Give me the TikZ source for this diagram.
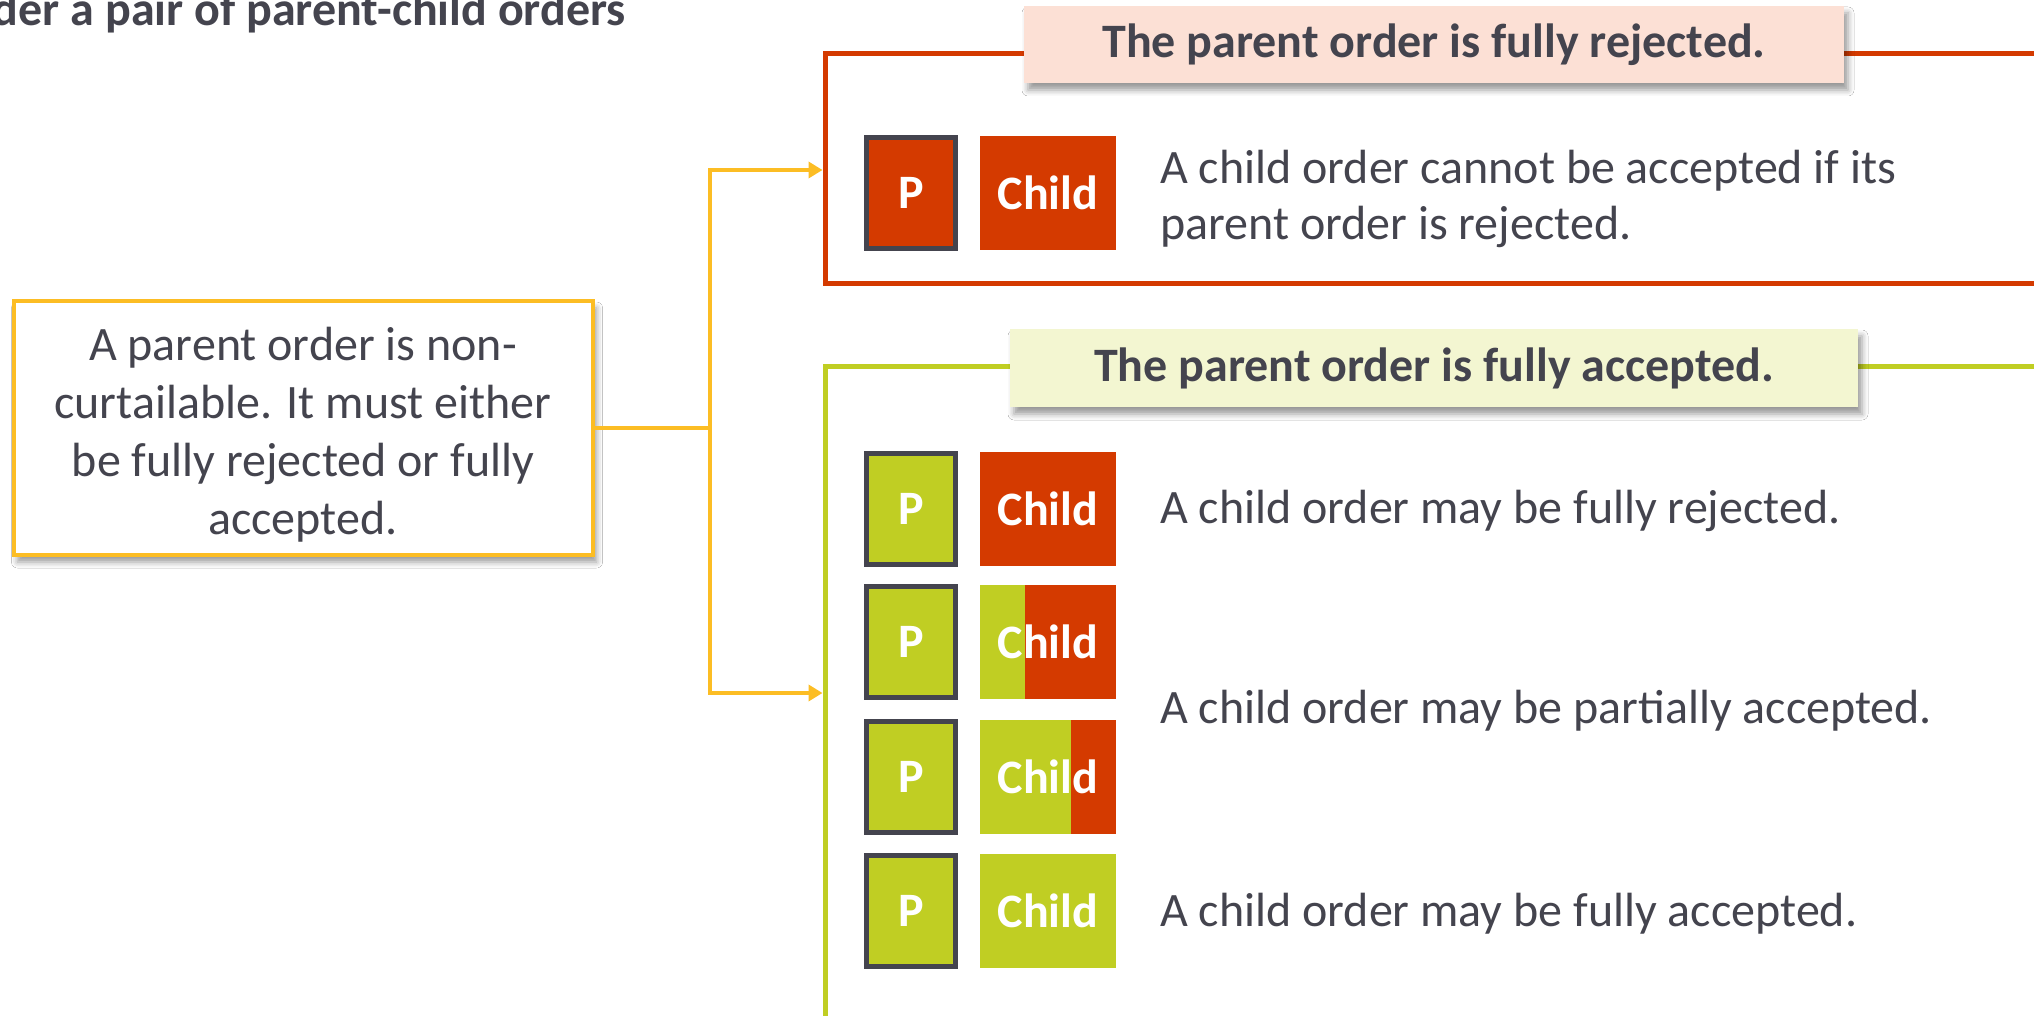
\documentclass[tikz,border=0pt]{standalone}
\usepackage{fontspec}
\setmainfont{Carlito}
\usetikzlibrary{arrows.meta,shadows.blur}

\definecolor{ink}{RGB}{68,68,78}
\definecolor{rust}{RGB}{212,58,0}
\definecolor{lime}{RGB}{192,206,35}
\definecolor{gold}{RGB}{252,189,36}
\definecolor{blush}{RGB}{252,224,213}
\definecolor{cream}{RGB}{243,246,209}

\tikzset{
  big/.style={font=\fontsize{48}{58}\selectfont},
  bigbold/.style={font=\bfseries\fontsize{48}{58}\selectfont},
  softshadow/.style={blur shadow={shadow xshift=4pt, shadow yshift=-7pt,
      shadow blur radius=6pt, shadow opacity=40}},
  heading/.style={bigbold, text=ink, inner sep=0pt, softshadow},
  framered/.style={draw=rust, line width=5pt},
  framelime/.style={draw=lime, line width=5pt},
  rulebox/.style={big, text=ink, draw=gold, line width=4pt, fill=white,
      minimum width=579pt, minimum height=254pt, align=center, inner sep=0pt,
      softshadow},
  conn/.style={draw=gold, line width=4pt},
  pbox/.style={bigbold, text=white, draw=ink, line width=5pt,
      minimum width=89pt, minimum height=111pt, inner sep=0pt},
  cbox/.style={bigbold, text=white, minimum width=136pt, minimum height=114pt,
      inner sep=0pt},
  split/.style={fill=lime, path picture={
      \fill[rust] ([xshift=#1]path picture bounding box.north west)
        rectangle (path picture bounding box.south east);}},
  desc/.style={font=\fontsize{48}{56}\selectfont, text=ink, inner sep=0pt, align=left},
}

\begin{document}
\begin{tikzpicture}[x=1pt, y=-1pt]
\useasboundingbox (0,0) rectangle (2034,1016);
\clip (0,0) rectangle (2034,1016);
\fill[white] (0,0) rectangle (2034,1016);

% page heading, running off the left edge
\node[bigbold, text=ink, inner sep=0pt, anchor=base east] (pagehead) at (626,26)
  {der a pair of parent-child orders};

% two outcome frames, open towards the right
\draw[framered] (2050,54) -| (825,284) -- (2050,284);
\draw[framelime] (2050,366) -| (825,1040);

\node[heading, fill=blush, minimum width=820pt, minimum height=77pt]
  (rejhead) at (1434,44.5) {The parent order is fully rejected.};
\node[heading, fill=cream, minimum width=848pt, minimum height=78pt]
  (acchead) at (1434,368) {The parent order is fully accepted.};

% the rule (the strut lowers the text block a little inside the box)
\node[rulebox] (rule) at (303,428)
  {\rule{0pt}{46pt}A parent order is non-\\curtailable. It must either\\be fully rejected or fully\\accepted.};

% branching connector
\coordinate (fork) at (710,428);
\coordinate (rejin) at (822.5,170);
\coordinate (accin) at (822.5,693);
\draw[conn] (rule.east) -- (fork);
\draw[conn, {Triangle[length=14pt,width=16pt]}-{Triangle[length=14pt,width=16pt]}]
  (rejin) -| (fork) |- (accin);

% rejected parent
\node[pbox, fill=rust] (p0) at (911,193) {P};
\node[cbox, fill=rust] (c0) at (1048,193) {Child};
\node[desc, anchor=west] (t0) at (1160,199)
  {A child order cannot be accepted if its\\parent order is rejected.};

% accepted parent
\node[pbox, fill=lime] (p1) at (911,509) {P};
\node[cbox, fill=rust] (c1) at (1048,509) {Child};
\node[desc, anchor=base west] (t1) at (1160,523) {A child order may be fully rejected.};

\node[pbox, fill=lime] (p2) at (911,642) {P};
\node[cbox, split=45pt] (c2) at (1048,642) {Child};

\node[pbox, fill=lime] (p3) at (911,777) {P};
\node[cbox, split=91pt] (c3) at (1048,777) {Child};
\node[desc, anchor=base west] (t2) at (1160,723) {A child order may be partially accepted.};

\node[pbox, fill=lime] (p4) at (911,911) {P};
\node[cbox, fill=lime] (c4) at (1048,911) {Child};
\node[desc, anchor=base west] (t4) at (1160,926) {A child order may be fully accepted.};
\end{tikzpicture}
\end{document}
